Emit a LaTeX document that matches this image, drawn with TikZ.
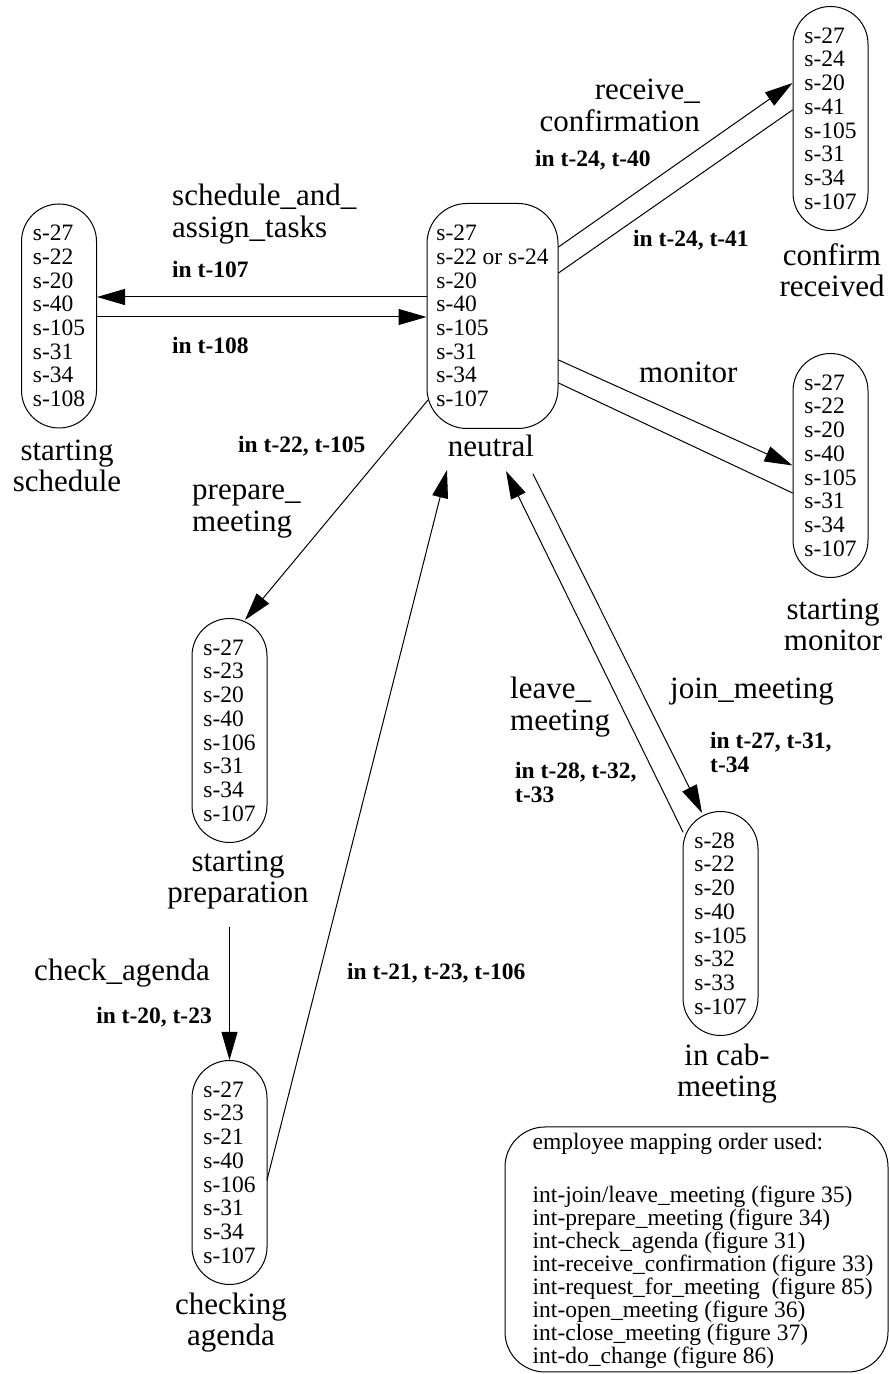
\documentclass[tikz,border=0pt]{standalone}
\usepackage{fontspec}
\setmainfont{Liberation Serif}
\usetikzlibrary{arrows.meta,calc}
\tikzset{
    statebox/.style={
        draw, line width=1pt, rounded corners=37.5pt,
        minimum width=75pt, minimum height=224pt, inner sep=0pt,
        align=left, font=\fontsize{23.5pt}{23.7pt}\selectfont
    },
    hubbox/.style={statebox, rounded corners=40pt, minimum width=131pt, minimum height=225pt},
    statename/.style={align=center, inner sep=0pt, font=\fontsize{31pt}{31pt}\selectfont},
    evname/.style={inner sep=0pt, font=\fontsize{31pt}{32pt}\selectfont},
    cond/.style={inner sep=0pt, font=\bfseries\fontsize{23.5pt}{24pt}\selectfont},
    trans/.style={line width=1pt, -{Triangle[length=28pt,width=16pt]}},
    back/.style={line width=1pt}
}

\begin{document}
\begin{tikzpicture}[x=1pt,y=1pt,line cap=round,line join=round]
    \useasboundingbox (0,0) rectangle (889,1374);

% --- states ---
    \node[statebox] (sched) at (59,1058)
        {s-27\\s-22\\s-20\\s-40\\s-105\\s-31\\s-34\\s-108};
    \node[hubbox] (neutral) at (492.5,1058)
        {s-27\\s-22 or s-24\\s-20\\s-40\\s-105\\s-31\\s-34\\s-107};
    \node[statebox] (confirm) at (830.5,1255.5)
        {s-27\\s-24\\s-20\\s-41\\s-105\\s-31\\s-34\\s-107};
    \node[statebox] (monitor) at (830.5,908.5)
        {s-27\\s-22\\s-20\\s-40\\s-105\\s-31\\s-34\\s-107};
    \node[statebox] (prep) at (229.5,643.5)
        {s-27\\s-23\\s-20\\s-40\\s-106\\s-31\\s-34\\s-107};
    \node[statebox] (check) at (229.5,201.5)
        {s-27\\s-23\\s-21\\s-40\\s-106\\s-31\\s-34\\s-107};
    \node[statebox] (cab) at (720.5,450.5)
        {s-28\\s-22\\s-20\\s-40\\s-105\\s-32\\s-33\\s-107};

% --- state names ---
    \node[statename] (schedname) at (67,908) {starting\\schedule};
    \node[statename] (neutralname) at (491,928) {neutral};
    \node[statename] (confirmname) at (832,1104) {confirm\\received};
    \node[statename] (monitorname) at (833,749) {starting\\monitor};
    \node[statename] (prepname) at (238,494) {starting\\preparation};
    \node[statename] (checkname) at (231,51.5) {checking\\agenda};
    \node[statename] (cabname) at (727,300) {in cab-\\meeting};

% --- transitions ---
    \draw[trans] ($(neutral.west)+(0,19)$) -- ($(sched.east)+(0,19)$);
    \draw[trans] ($(sched.east)+(0,-1)$) -- ($(neutral.west)+(0,-1)$);
    \draw[trans] ($(neutral.east)+(0,69)$) -- ($(confirm.west)+(0,35.5)$);
    \draw[back] ($(confirm.west)+(0,8.5)$) -- ($(neutral.east)+(0,43)$);
    \draw[trans] ($(neutral.east)+(0,-44)$) -- (monitor.west);
    \draw[back] ($(neutral.east)+(0,-67)$) -- ($(monitor.west)+(0,-27.5)$);
    \draw[trans] ($(neutral.center)+(-64.5,-84)$) -- ($(prep.center)+(15.5,110.5)$);
    \draw[trans] ($(prepname.south -| check.north)+(0,-18)$) -- (check.north);
    \draw[trans] ($(check.center)+(37.5,-7.5)$) -- ($(neutralname.center)+(-44,-24)$);
    \draw[trans] ($(cab.center)+(-37.5,91.5)$) -- ($(neutralname.center)+(15,-25)$);
    \draw[trans] ($(neutralname.center)+(42,-28)$) -- ($(cab.center)+(-18.5,110.5)$);

% --- event names and conditions ---
    \node[evname, align=left, anchor=west] (schedev) at (172,1160) {schedule\_and\_\\assign\_tasks};
    \node[cond, anchor=west] (schedin) at (172,1105) {in t-107};
    \node[cond, anchor=west] (schedout) at (172,1029) {in t-108};
    \node[evname, align=right, anchor=east] (confirmev) at (700,1269) {receive\_\\confirmation};
    \node[cond, anchor=west] (confirmin) at (535,1214) {in t-24, t-40};
    \node[cond, anchor=west] (confirmout) at (633,1134) {in t-24, t-41};
    \node[evname, anchor=west] (monitorev) at (639,1002) {monitor};
    \node[cond, anchor=west] (prepin) at (238,928) {in t-22, t-105};
    \node[evname, align=left, anchor=west] (prepev) at (192,862) {prepare\_\\meeting};
    \node[evname, anchor=east] (checkev) at (210,401) {check\_agenda};
    \node[cond, anchor=east] (checkin) at (212,357) {in t-20, t-23};
    \node[cond, anchor=west] (checkout) at (347,401) {in t-21, t-23, t-106};
    \node[evname, align=left, anchor=west] (leaveev) at (510,667) {leave\_\\meeting};
    \node[evname, anchor=west] (joinev) at (670,682) {join\_meeting};
    \node[cond, align=left, anchor=west] (joinin) at (710,622) {in t-27, t-31,\\t-34};
    \node[cond, align=left, anchor=west] (leavein) at (515,592) {in t-28, t-32,\\t-33};

% --- mapping order note ---
    \node[draw, line width=1pt, rounded corners=40pt, minimum width=383pt, minimum height=245pt]
        (legend) at (696.5,124.5) {};
    \node[align=left, inner sep=0pt, anchor=north west, font=\fontsize{23.5pt}{23pt}\selectfont]
        (legendtext) at ($(legend.north west)+(28,-6)$)
        {employee mapping order used:\\[30pt]
         int-join/leave\_meeting (figure 35)\\
         int-prepare\_meeting (figure 34)\\
         int-check\_agenda (figure 31)\\
         int-receive\_confirmation (figure 33)\\
         int-request\_for\_meeting\ \ (figure 85)\\
         int-open\_meeting (figure 36)\\
         int-close\_meeting (figure 37)\\
         int-do\_change (figure 86)};

\end{tikzpicture}
\end{document}
